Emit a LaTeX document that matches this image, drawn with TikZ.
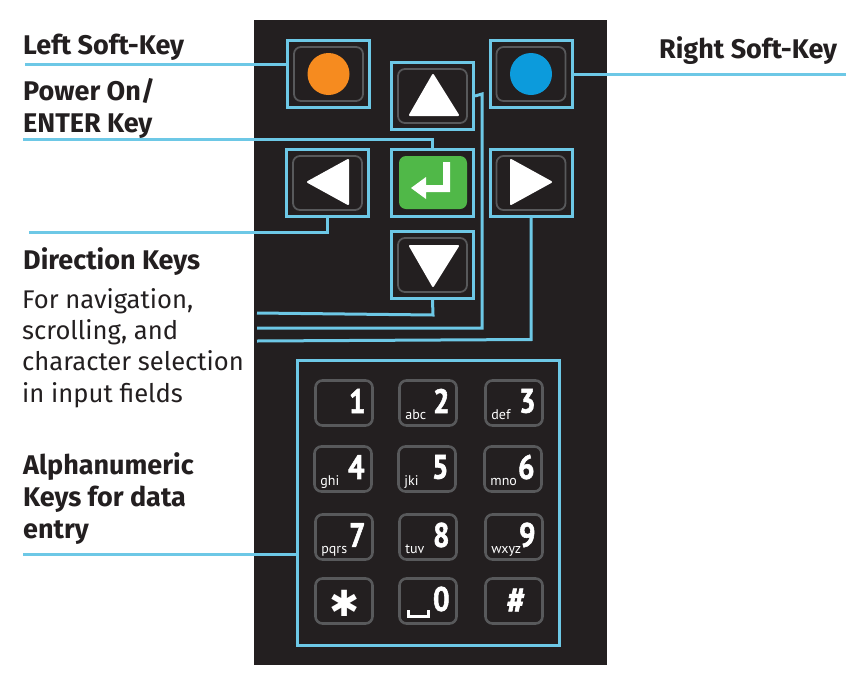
\documentclass[tikz,border=0pt]{standalone}
\usepackage{fontspec}
\setmainfont{Fira Sans}
\newfontfamily\keyfont[BoldFeatures={FakeBold=1.6,FakeStretch=0.86}]{PT Sans}
\newfontfamily\starfont{DejaVu Sans}
\usepackage{xcolor}
\definecolor{panel}{HTML}{231F20}
\definecolor{leader}{HTML}{6DC8E6}
\definecolor{keyrim}{HTML}{58595B}
\definecolor{softorange}{HTML}{F68B1F}
\definecolor{softblue}{HTML}{0C9BDC}
\definecolor{entergreen}{HTML}{50B848}
\definecolor{labeltext}{HTML}{231F20}
\usetikzlibrary{calc}
\begin{document}
\begin{tikzpicture}[
  x=1pt, y=-1pt,
  frame/.style={draw=leader, line width=3pt, minimum width=82pt, minimum height=67pt, inner sep=0pt},
  keycap/.style={draw=keyrim, line width=1.8pt, rounded corners=7pt, minimum width=69pt, minimum height=54pt, inner sep=0pt},
  smallkey/.style={draw=keyrim, line width=2.6pt, rounded corners=7pt, minimum width=57pt, minimum height=45pt, inner sep=0pt},
  lead/.style={draw=leader, line width=3pt},
  head/.style={anchor=north west, align=left, inner sep=0pt, text=labeltext, font=\fontsize{27}{32}\selectfont\bfseries},
  body/.style={anchor=north west, align=left, inner sep=0pt, text=labeltext, font=\fontsize{25.6}{31.3}\selectfont},
  arrowhd/.style={fill=white, draw=white, line width=2pt, line join=round},
  digit/.style={text=white, inner sep=0pt, font=\fontsize{34}{34}\keyfont\bfseries},
  letters/.style={text=white!90, inner sep=0pt, font=\fontsize{14}{14}\keyfont}
]
  \useasboundingbox (0,0) rectangle (857,675);
  \fill[panel] (254,20) rectangle (607,665);

  % Soft keys and direction keys
  \foreach \nm/\cx/\cy in {softL/328.5/74, softR/531/74, up/432.5/96, left/327.5/183, enter/432.5/183, right/531/183, down/432.5/265}{
    \node[frame] (\nm) at (\cx,\cy) {};
  }
  \foreach \nm in {softL, softR, up, left, right, down}{
    \node[keycap] (\nm cap) at (\nm) {};
  }
  \fill[softorange] (softLcap) circle (21);
  \fill[softblue] (softRcap) circle (21);
  \fill[arrowhd] (433,75) -- (458,115) -- (410,115) -- cycle;
  \fill[arrowhd] (308,182) -- (348,160) -- (348,204) -- cycle;
  \fill[arrowhd] (551,182) -- (511,160) -- (511,204) -- cycle;
  \fill[arrowhd] (433,286) -- (458,246) -- (410,246) -- cycle;

  % Enter key
  \node[fill=entergreen, rounded corners=7pt, minimum width=68pt, minimum height=53pt, inner sep=0pt] (entercap) at (433,182.5) {};
  \fill[white] (443,162) -- (450,162) -- (450,192) -- (426,192) -- (426,199) -- (411,188) -- (426,177) -- (426,185) -- (443,185) -- cycle;

  % Keypad
  \node[frame, minimum width=262pt, minimum height=285pt] (keypad) at (428,502.5) {};
  \foreach \nm/\cx/\cy/\dgt/\ltr in {a/344/403/1/, b/428/403/2/abc, c/514/403/3/def,
      d/343/469/4/ghi, e/427/469/5/jki, f/513/469/6/mno,
      g/344/537/7/pqrs, h/428/537/8/tuv, i/514/537/9/wxyz, k/428/601/0/}{
    \node[smallkey] (key\nm) at (\cx,\cy) {};
    \node[digit, anchor=east] (dig\nm) at ($(key\nm.east)+(-8,-2)$) {\dgt};
    \node[letters, anchor=base west] (ltr\nm) at ($(key\nm.west)+(7,16)$) {\ltr};
  }
  \node[smallkey] (keystar) at (344,601) {};
  \node[smallkey] (keyhash) at (514,601) {};
  \node[digit, font=\fontsize{36}{36}\starfont] (digstar) at (345,603) {✱};
  \node[digit, font=\fontsize{38}{38}\keyfont\bfseries] (dighash) at (516,601) {\#};
  \draw[white, line width=3pt] (408,610) -- (408,616) -- (428,616) -- (428,610);

  % Labels
  \node[head] (softLtxt) at (23,34) {Left Soft-Key};
  \node[head] (softRtxt) at (659,36) {Right Soft-Key};
  \node[head] (powertxt) at (23,78) {Power On/\\ENTER Key};
  \node[head] (dirtxt) at (23,247.5) {Direction Keys};
  \node[body] (navtxt) at (22,288) {For navigation,\\scrolling, and\\character selection\\in input fields};
  \node[head] (alphatxt) at (23,452) {Alphanumeric\\Keys for data\\entry};

  % Leaders, free ends first
  \coordinate (softLend) at (25,64);
  \coordinate (softRend) at (846,74);
  \coordinate (powerend) at (23,139);
  \coordinate (leftend) at (29,232);
  \coordinate (downend) at (257,313);
  \coordinate (upend) at (257,328);
  \coordinate (rightend) at (257,341);
  \coordinate (padend) at (23,554);

  \draw[lead] (softLend) -- (softLend -| softL.west);
  \draw[lead] (softRend) -- (softRend -| softR.east);
  \draw[lead] (powerend) -- (powerend -| enter.north) -- (enter.north);
  \draw[lead] (leftend) -- (leftend -| left.south) -- (left.south);
  \draw[lead] (downend) -- (433,315) -- (down.south);
  \draw[lead] (upend) -- (482,328) -- (482,94) -- (up.east);
  \draw[lead] (rightend) -- (531,339.5) -- (right.south);
  \draw[lead] (padend) -- (padend -| keypad.west);
\end{tikzpicture}
\end{document}
